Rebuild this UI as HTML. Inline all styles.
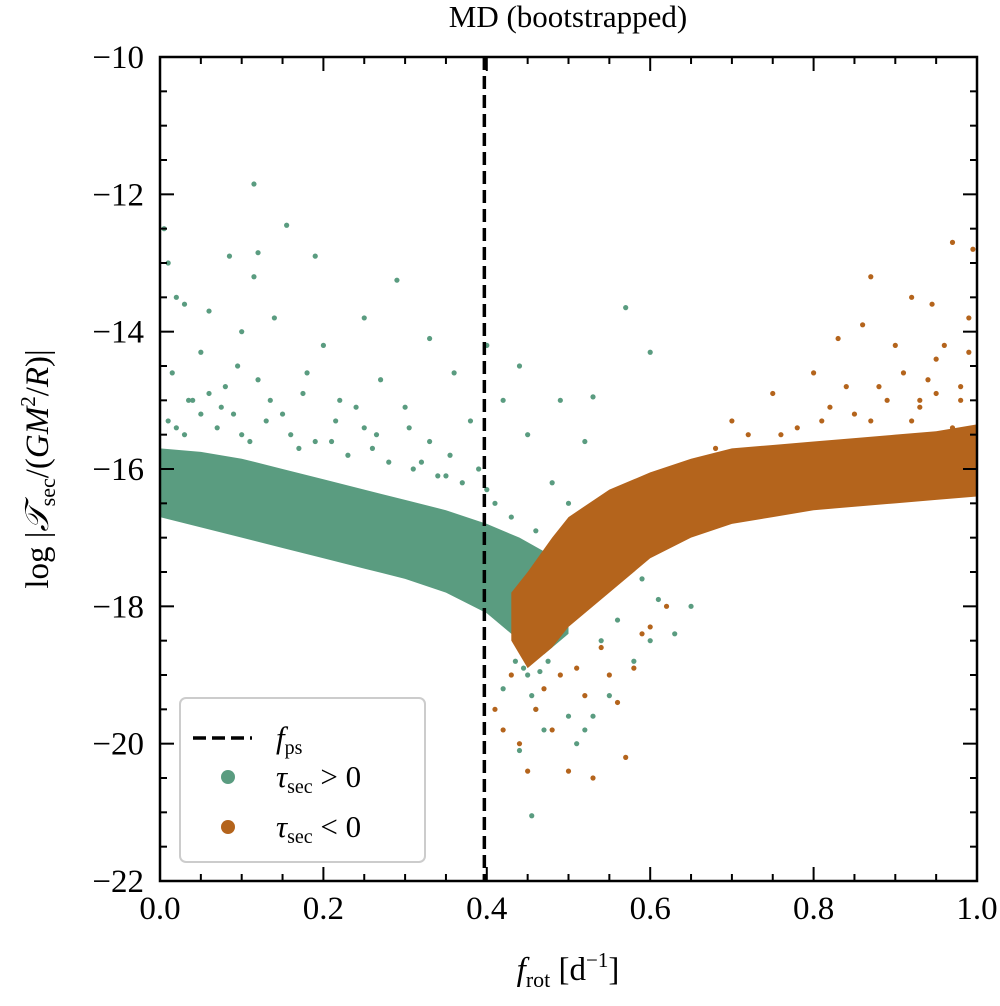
<!DOCTYPE html>
<html><head><meta charset="utf-8"><style>
html,body{margin:0;padding:0;background:#fff;}
svg text{font-family:"Liberation Serif","DejaVu Serif",serif;fill:#000;}
</style></head><body>
<svg id="chart" width="1000" height="1001" viewBox="0 0 1000 1001" xmlns="http://www.w3.org/2000/svg">
<text x="568" y="27" font-size="31" text-anchor="middle">MD (bootstrapped)</text>
<g id="plot"></g>
<text x="568" y="980" font-size="33" text-anchor="middle"><tspan font-style="italic">f</tspan><tspan font-size="22" dy="7">rot</tspan><tspan dy="-7"> [d</tspan><tspan font-size="21" dy="-13">−1</tspan><tspan dy="13">]</tspan></text>
<text transform="translate(48,469) rotate(-90)" font-size="33" text-anchor="middle">log |<tspan font-style="italic">𝒯</tspan><tspan font-size="22" dy="7">sec</tspan><tspan dy="-7">/(</tspan><tspan font-style="italic">GM</tspan><tspan font-size="21" dy="-13">2</tspan><tspan dy="13">/</tspan><tspan font-style="italic">R</tspan>)|</text>
</svg>
<script>
const xTicks=[0.0,0.2,0.4,0.6,0.8,1.0];
const xTickLabels=["0.0","0.2","0.4","0.6","0.8","1.0"];
const yTicks=[-10,-12,-14,-16,-18,-20,-22];
const yTickLabels=["−10","−12","−14","−16","−18","−20","−22"];
const fps=0.397;
const posBandX=[0,0.05,0.1,0.15,0.2,0.25,0.3,0.35,0.4,0.44,0.47,0.5];
const posBandUpper=[-15.7,-15.75,-15.85,-16.0,-16.15,-16.3,-16.45,-16.6,-16.8,-17.0,-17.2,-17.4];
const posBandLower=[-16.7,-16.85,-17.0,-17.15,-17.3,-17.45,-17.6,-17.8,-18.1,-18.5,-18.7,-18.4];
const negBandX=[0.43,0.45,0.48,0.5,0.55,0.6,0.65,0.7,0.75,0.8,0.85,0.9,0.95,1.0];
const negBandUpper=[-17.8,-17.5,-17.0,-16.7,-16.3,-16.05,-15.85,-15.7,-15.65,-15.6,-15.55,-15.5,-15.45,-15.35];
const negBandLower=[-18.5,-18.9,-18.6,-18.3,-17.8,-17.3,-17.0,-16.8,-16.7,-16.6,-16.55,-16.5,-16.45,-16.4];
const posX=[0.115,0.155,0.12,0.085,0.19,0.005,0.01,0.115,0.29,0.02,0.03,0.06,0.14,0.25,0.1,0.2,0.33,0.05,0.4,0.44,0.57,0.6,0.18,0.27,0.36,0.08,0.22,0.3,0.42,0.49,0.53,0.15,0.38,0.02,0.1,0.25,0.33,0.45,0.52,0.05,0.48,0.4,0.35,0.5,0.45,0.46,0.47,0.44,0.5,0.52,0.53,0.455,0.42,0.55,0.58,0.6,0.63,0.65,0.51,
0.01,0.03,0.04,0.07,0.09,0.11,0.13,0.16,0.17,0.21,0.23,0.26,0.28,0.31,0.34,0.37,0.39,0.41,0.43,0.46,0.06,0.12,0.19,0.24,0.32,0.015,0.035,0.075,0.095,0.135,0.175,0.215,0.265,0.305,0.355,0.445,0.465,0.475,0.485,0.455,0.435,0.54,0.56,0.59,0.61];
const posY=[-11.85,-12.45,-12.85,-12.9,-12.9,-12.5,-13.0,-13.2,-13.25,-13.5,-13.6,-13.7,-13.8,-13.8,-14.0,-14.2,-14.1,-14.3,-14.2,-14.5,-13.65,-14.3,-14.6,-14.7,-14.6,-14.8,-15.0,-15.1,-15.0,-15.0,-14.95,-15.2,-15.3,-15.4,-15.5,-15.4,-15.6,-15.5,-15.6,-15.2,-16.2,-16.3,-16.1,-16.5,-19.0,-19.5,-19.8,-20.1,-19.6,-19.8,-19.6,-21.05,-19.2,-19.3,-18.8,-18.5,-18.4,-18.0,-20.0,
-15.3,-15.5,-15.0,-15.4,-15.2,-15.6,-15.3,-15.5,-15.7,-15.6,-15.8,-15.7,-15.9,-16.0,-16.1,-16.2,-16.0,-16.5,-16.7,-16.9,-14.9,-14.7,-15.6,-15.1,-15.9,-14.6,-15.0,-15.1,-14.5,-15.0,-14.9,-15.3,-15.5,-15.4,-15.8,-18.9,-18.95,-18.8,-17.8,-19.3,-18.8,-18.5,-18.2,-17.6,-17.9];
const negX=[0.97,0.995,0.87,0.92,0.945,0.99,0.83,0.86,0.9,0.95,0.98,0.8,0.88,0.93,0.75,0.85,0.97,0.7,0.78,0.92,0.46,0.44,0.45,0.5,0.53,0.57,0.48,0.52,0.55,0.56,0.58,0.6,0.62,0.41,0.43,
0.96,0.94,0.91,0.89,0.84,0.82,0.99,0.98,0.87,0.93,0.76,0.72,0.68,0.81,0.95,0.47,0.49,0.51,0.54,0.59,0.42];
const negY=[-12.7,-12.8,-13.2,-13.5,-13.6,-13.8,-14.1,-13.9,-14.2,-14.4,-14.8,-14.6,-14.8,-15.0,-14.9,-15.2,-15.4,-15.3,-15.4,-15.3,-19.5,-20.0,-20.4,-20.4,-20.5,-20.2,-19.8,-19.3,-19.0,-19.4,-18.9,-18.3,-18.0,-19.5,-19.0,
-14.2,-14.7,-14.6,-15.0,-14.8,-15.1,-14.3,-15.0,-15.3,-15.1,-15.5,-15.5,-15.7,-15.3,-14.9,-19.2,-19.0,-18.9,-18.6,-18.4,-19.8];

const L=160,R=977,T=57,B=881;
const xs=v=>L+(v-0)/(1-0)*(R-L);
const ys=v=>T+(-10-v)/12*(B-T);
const NS="http://www.w3.org/2000/svg";
const g=document.getElementById('plot');
function mk(t,a){const e=document.createElementNS(NS,t);for(const k in a)e.setAttribute(k,a[k]);g.appendChild(e);return e;}
const GREEN="#5a9c80",ORANGE="#b4641c";
function band(xa,up,lo,col,name){
  let p=xa.map((x,i)=>xs(x)+","+ys(up[i]));
  for(let i=xa.length-1;i>=0;i--)p.push(xs(xa[i])+","+ys(lo[i]));
  const e=mk('polygon',{points:p.join(' '),fill:col});
  
  
}
band(posBandX,posBandUpper,posBandLower,GREEN,'positive-torque-band');
posX.forEach((x,i)=>{const c=mk('circle',{cx:xs(x),cy:ys(posY[i]),r:2.6,fill:GREEN});

});
band(negBandX,negBandUpper,negBandLower,ORANGE,'negative-torque-band');
negX.forEach((x,i)=>{const c=mk('circle',{cx:xs(x),cy:ys(negY[i]),r:2.6,fill:ORANGE});

});
const fl=mk('line',{x1:xs(fps),x2:xs(fps),y1:T,y2:B,stroke:'#000','stroke-width':3.5,'stroke-dasharray':'13,6'});


for(let v=0;v<=1.0001;v+=0.05){const x=xs(v);const maj=Math.abs(v*5-Math.round(v*5))<1e-6;const len=maj?14:7;
mk('line',{x1:x,x2:x,y1:B,y2:B-len,stroke:'#000','stroke-width':2});mk('line',{x1:x,x2:x,y1:T,y2:T+len,stroke:'#000','stroke-width':2});}
for(let v=-22;v<=-10;v+=0.5){const y=ys(v);const maj=(Math.round(v*2)%4===0);const len=maj?14:7;
mk('line',{x1:L,x2:L+len,y1:y,y2:y,stroke:'#000','stroke-width':2});mk('line',{x1:R,x2:R-len,y1:y,y2:y,stroke:'#000','stroke-width':2});}
xTicks.forEach((v,i)=>{const t=mk('text',{x:xs(v),y:B+38,'font-size':33,'text-anchor':'middle'});t.textContent=xTickLabels[i];

});
yTicks.forEach((v,i)=>{const t=mk('text',{x:L-16,y:ys(v)+11,'font-size':33,'text-anchor':'end'});t.textContent=yTickLabels[i];

});
const fr=mk('rect',{x:L,y:T,width:R-L,height:B-T,fill:'none',stroke:'#000','stroke-width':2.5});


const lg=mk('rect',{x:180,y:698,width:245,height:164,rx:6,fill:'#fff','fill-opacity':0.85,stroke:'#ccc','stroke-width':2});


mk('line',{x1:193,x2:252,y1:738,y2:738,stroke:'#000','stroke-width':3.5,'stroke-dasharray':'13,6'});
mk('circle',{cx:228,cy:777,r:7,fill:GREEN});
mk('circle',{cx:228,cy:827,r:7,fill:ORANGE});
const le=[["<tspan font-style='italic'>f</tspan><tspan font-size='20' dy='6'>ps</tspan>",748,'legend-entry-fps'],
["<tspan font-style='italic'>τ</tspan><tspan font-size='20' dy='6'>sec</tspan><tspan dy='-6'> &gt; 0</tspan>",787,'legend-entry-positive'],
["<tspan font-style='italic'>τ</tspan><tspan font-size='20' dy='6'>sec</tspan><tspan dy='-6'> &lt; 0</tspan>",837,'legend-entry-negative']];
le.forEach(d=>{const t=mk('text',{x:276,y:d[1],'font-size':31});t.innerHTML=d[0];

});
</script>
</body></html>
